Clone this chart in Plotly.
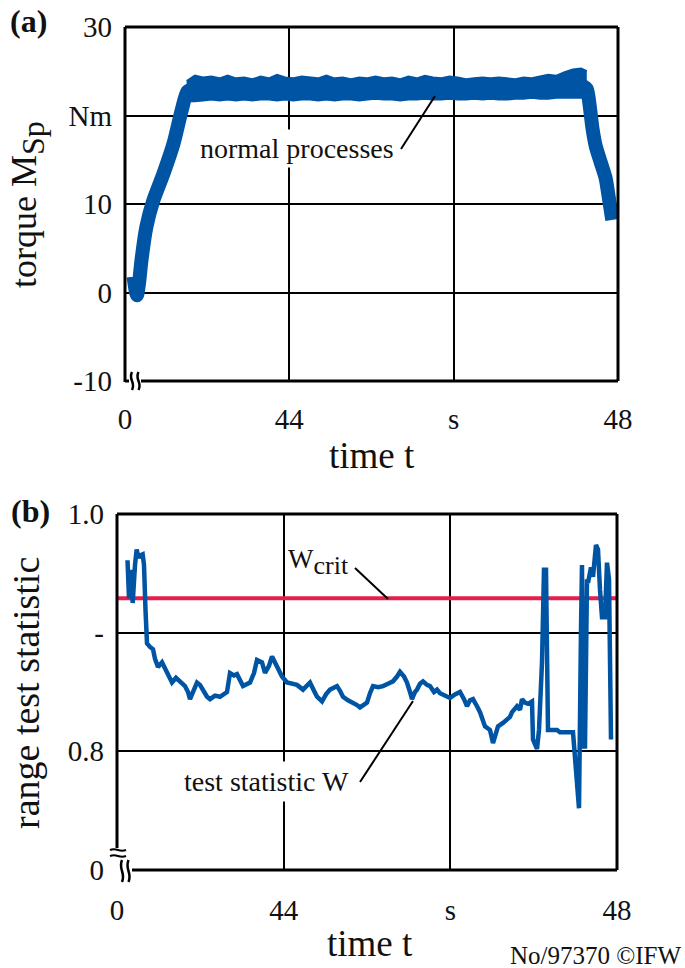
import plotly.graph_objects as go

# ---------------- data ----------------
x_tickvals = [42, 44, 46, 48]
x_ticktext = ["0", "44", "s", "48"]

torque_yticks = [-10, 0, 10, 20, 30]
torque_yticktext = ["-10", "0", "10", "Nm", "30"]

w_yticks = [0.7, 0.8, 0.9, 1.0]
w_yticktext = ["0", "0.8", "-", "1.0"]

# torque centre line (ramp-up, plateau, run-down)
torque_t = [42.104, 42.13, 42.146, 42.17, 42.20, 42.26, 42.345, 42.467, 42.59, 42.69, 42.76, 42.87,
            43.5, 44.5, 45.5, 46.5, 47.55, 47.62, 47.65, 47.69, 47.73, 47.79, 47.85, 47.89, 47.93]
torque_v = [1.8, 0.2, -0.3, 1.0, 3.6, 7.4, 10.4, 13.4, 16.8, 20.6, 22.7, 23.1,
            23.0, 23.0, 23.0, 23.1, 23.4, 23.0, 21.5, 18.5, 16.5, 14.7, 12.9, 10.6, 8.2]

# plateau noise band (upper / lower envelope)
plateau_t = [42.75, 42.85, 42.95, 43.05, 43.15, 43.25, 43.35, 43.45, 43.55, 43.65, 43.75, 43.85,
             43.95, 44.05, 44.15, 44.25, 44.35, 44.45, 44.55, 44.65, 44.75, 44.85, 44.95, 45.05,
             45.15, 45.25, 45.35, 45.45, 45.55, 45.65, 45.75, 45.85, 45.95, 46.05, 46.15, 46.25,
             46.35, 46.45, 46.55, 46.65, 46.75, 46.85, 46.95, 47.05, 47.15, 47.25, 47.35, 47.45, 47.55, 47.62]
plateau_hi = [23.9, 24.5, 24.3, 24.4, 24.2, 24.5, 24.2, 24.3, 24.1, 24.4, 24.2, 24.6,
              24.3, 24.2, 24.4, 24.3, 24.2, 24.5, 24.2, 24.3, 24.1, 24.3, 24.2, 24.4,
              24.2, 24.3, 24.1, 24.4, 24.2, 24.5, 24.3, 24.2, 24.4, 24.3, 24.1, 24.2,
              24.3, 24.2, 24.3, 24.2, 24.1, 24.3, 24.2, 24.4, 24.6, 24.5, 24.9, 25.2, 25.3, 25.0]
plateau_lo = [21.6, 21.6, 21.7, 21.8, 21.7, 21.8, 21.7, 21.8, 21.7, 21.8, 21.8, 21.7,
              21.8, 21.7, 21.8, 21.8, 21.7, 21.8, 21.7, 21.8, 21.8, 21.7, 21.8, 21.9,
              21.8, 21.8, 21.7, 21.8, 21.8, 21.9, 21.8, 21.8, 21.9, 21.8, 21.8, 21.9,
              21.8, 21.9, 21.8, 21.8, 21.9, 21.9, 22.0, 21.9, 21.9, 22.0, 22.0, 22.0, 22.0, 22.0]

# range test statistic W
w_t = [42.126, 42.144, 42.168, 42.188, 42.216, 42.236, 42.258, 42.276, 42.308, 42.324, 42.342, 42.36,
       42.396, 42.432, 42.456, 42.492, 42.54, 42.60, 42.66, 42.708, 42.756, 42.816, 42.852, 42.876,
       42.924, 42.96, 42.996, 43.032, 43.08, 43.116, 43.176, 43.236, 43.32, 43.356, 43.404, 43.44,
       43.512, 43.596, 43.644, 43.68, 43.74, 43.776, 43.824, 43.86, 43.92, 43.98, 44.04, 44.10,
       44.16, 44.232, 44.28, 44.316, 44.364, 44.40, 44.46, 44.508, 44.556, 44.64, 44.676, 44.712,
       44.772, 44.832, 44.88, 44.916, 44.964, 45.00, 45.036, 45.072, 45.132, 45.192, 45.252, 45.312,
       45.36, 45.396, 45.444, 45.48, 45.516, 45.54, 45.576, 45.60, 45.636, 45.672, 45.72, 45.756,
       45.804, 45.84, 45.876, 45.924, 45.96, 45.996, 46.056, 46.116, 46.164, 46.20, 46.236, 46.272,
       46.32, 46.356, 46.416, 46.476, 46.512, 46.548, 46.572, 46.632, 46.68, 46.716, 46.74, 46.80,
       46.836, 46.86, 46.896, 46.932, 46.98, 46.992, 47.04, 47.064, 47.10, 47.124, 47.148, 47.16,
       47.172, 47.28, 47.316, 47.472, 47.52, 47.544, 47.568, 47.58, 47.592, 47.616, 47.64, 47.652,
       47.688, 47.712, 47.748, 47.772, 47.796, 47.82, 47.856, 47.88, 47.904, 47.928]
w_v = [0.961, 0.929, 0.953, 0.925, 0.957, 0.970, 0.963, 0.965, 0.966, 0.957, 0.919, 0.891,
       0.888, 0.886, 0.878, 0.871, 0.875, 0.866, 0.858, 0.862, 0.859, 0.855, 0.850, 0.844,
       0.852, 0.858, 0.856, 0.852, 0.846, 0.844, 0.847, 0.846, 0.850, 0.866, 0.864, 0.865,
       0.855, 0.858, 0.866, 0.877, 0.875, 0.866, 0.872, 0.880, 0.871, 0.863, 0.858, 0.857,
       0.856, 0.852, 0.856, 0.858, 0.851, 0.846, 0.842, 0.848, 0.852, 0.855, 0.851, 0.846,
       0.843, 0.841, 0.839, 0.837, 0.840, 0.841, 0.849, 0.855, 0.854, 0.855, 0.857, 0.859,
       0.863, 0.867, 0.863, 0.858, 0.850, 0.844, 0.850, 0.852, 0.857, 0.859, 0.856, 0.855,
       0.850, 0.852, 0.849, 0.847, 0.846, 0.845, 0.848, 0.850, 0.844, 0.838, 0.843, 0.844,
       0.838, 0.833, 0.821, 0.818, 0.807, 0.817, 0.821, 0.824, 0.827, 0.829, 0.833, 0.838,
       0.835, 0.844, 0.841, 0.840, 0.842, 0.810, 0.802, 0.818, 0.875, 0.953, 0.953, 0.875,
       0.818, 0.818, 0.816, 0.816, 0.774, 0.752, 0.903, 0.957, 0.804, 0.804, 0.945, 0.942,
       0.955, 0.947, 0.974, 0.970, 0.936, 0.913, 0.913, 0.959, 0.945, 0.810]

w_crit = 0.929
t_range = [42, 48]

# ---------------- styling ----------------
W, H = 685, 968
BLUE = "#0054A4"
RED = "#E61E4B"
FONT = "Liberation Serif"


def px(x):
    return x / W


def py(y):
    return 1 - y / H


fig = go.Figure()

# torque band
fig.add_trace(go.Scatter(x=plateau_t, y=plateau_lo, mode="lines",
                         line=dict(color=BLUE, width=2), xaxis="x", yaxis="y", showlegend=False))
fig.add_trace(go.Scatter(x=plateau_t, y=plateau_hi, mode="lines", fill="tonexty", fillcolor=BLUE,
                         line=dict(color=BLUE, width=2), xaxis="x", yaxis="y", showlegend=False))
fig.add_trace(go.Scatter(x=torque_t, y=torque_v, mode="lines",
                         line=dict(color=BLUE, width=14, shape="spline", smoothing=0.6),
                         xaxis="x", yaxis="y", showlegend=False))

# W_crit and W
fig.add_trace(go.Scatter(x=t_range, y=[w_crit, w_crit], mode="lines",
                         line=dict(color=RED, width=4), xaxis="x2", yaxis="y2", showlegend=False))
fig.add_trace(go.Scatter(x=w_t, y=w_v, mode="lines",
                         line=dict(color=BLUE, width=4.5), xaxis="x2", yaxis="y2", showlegend=False))

axis_common = dict(showgrid=True, gridcolor="black", gridwidth=2, zeroline=False, automargin=False,
                   showline=False, ticks="", tickfont=dict(family=FONT, size=29, color="#111"))

fig.update_layout(
    template="none",
    width=W, height=H, margin=dict(l=0, r=0, t=0, b=0, pad=0, autoexpand=False),
    paper_bgcolor="white", plot_bgcolor="white", showlegend=False,
    xaxis=dict(domain=[px(125), px(618)], range=t_range, tickmode="array",
               tickvals=x_tickvals, ticktext=x_ticktext, anchor="y",
               ticklabelstandoff=18, **axis_common),
    yaxis=dict(domain=[py(381), py(27)], range=[-10, 30], tickmode="array",
               tickvals=torque_yticks, ticktext=torque_yticktext, anchor="x",
               ticklabelstandoff=12, **axis_common),
    xaxis2=dict(domain=[px(117), px(617)], range=t_range, tickmode="array",
                tickvals=x_tickvals, ticktext=x_ticktext, anchor="y2",
                ticklabelstandoff=20, **axis_common),
    yaxis2=dict(domain=[py(870), py(514)], range=[0.7, 1.0], tickmode="array",
                tickvals=w_yticks, ticktext=w_yticktext, anchor="x2",
                ticklabelstandoff=12, **axis_common),
)

shapes = []


def pline(x0, y0, x1, y1, w=3):
    shapes.append(dict(type="line", xref="paper", yref="paper",
                       x0=px(x0), y0=py(y0), x1=px(x1), y1=py(y1),
                       line=dict(color="black", width=w), layer="above"))


def wiggle(xc, y0, y1, w=2.5, a=4):
    h = y1 - y0
    path = "M {:.5f},{:.5f} C {:.5f},{:.5f} {:.5f},{:.5f} {:.5f},{:.5f}".format(
        px(xc), py(y0), px(xc - a), py(y0 + h * 0.45), px(xc + a), py(y0 + h * 0.55), px(xc), py(y1))
    shapes.append(dict(type="path", xref="paper", yref="paper", path=path,
                       line=dict(color="black", width=w), layer="above"))


def hwiggle(yc, x0, x1, w=2, a=3):
    wd = x1 - x0
    path = "M {:.5f},{:.5f} C {:.5f},{:.5f} {:.5f},{:.5f} {:.5f},{:.5f}".format(
        px(x0), py(yc), px(x0 + wd * 0.45), py(yc - a), px(x0 + wd * 0.55), py(yc + a), px(x1), py(yc))
    shapes.append(dict(type="path", xref="paper", yref="paper", path=path,
                       line=dict(color="black", width=w), layer="above"))


# panel (a) frame with axis break
pline(125, 27, 618, 27)
pline(618, 27, 618, 381)
pline(125, 27, 125, 382)
pline(125, 381, 129, 381)
pline(141, 381, 618, 381)
wiggle(132, 372, 390)
wiggle(138.5, 372, 390)

# panel (b) frame with axis break
pline(117, 514, 617, 514)
pline(617, 514, 617, 870)
pline(117, 514, 117, 848)
pline(132, 870, 617, 870)
hwiggle(850, 110, 126)
hwiggle(856, 110, 126)
wiggle(122, 860, 882)
wiggle(128.5, 860, 882)

# leader lines
pline(401, 149, 435, 96, w=2)
pline(355, 568, 388, 599, w=2)
pline(360, 782, 413, 701, w=2)

fig.update_layout(shapes=shapes)

ann = []


def text(x, y, s, size, xanchor="center", angle=0, bold=False, bg=None, pad=0):
    ann.append(dict(x=px(x), y=py(y), xref="paper", yref="paper", text=("<b>%s</b>" % s) if bold else s,
                    showarrow=False, xanchor=xanchor, yanchor="middle", textangle=angle,
                    font=dict(family=FONT, size=size, color="#111"),
                    bgcolor=bg, borderpad=pad))


text(28, 21, "(a)", 32, bold=True)
text(30, 511, "(b)", 32, bold=True)
text(27, 205, 'torque M<sub><span style="font-size:32px">Sp</span></sub>', 36, angle=-90)
text(26, 693, "range test statistic", 38, angle=-90)
text(372, 455, "time t", 37)
text(370, 943, "time t", 37)
text(682, 955, "No/97370 ©IFW", 25, xanchor="right")
text(297, 148, "normal processes", 28, bg="white", pad=3)
text(266, 781, "test statistic W", 28, bg="white", pad=4)
text(318, 562, 'W<sub><span style="font-size:26px">crit</span></sub>', 27)

fig.update_layout(annotations=ann)

fig.write_html("out.html", config={"displayModeBar": False},
               post_script="document.body.style.margin='0';")
